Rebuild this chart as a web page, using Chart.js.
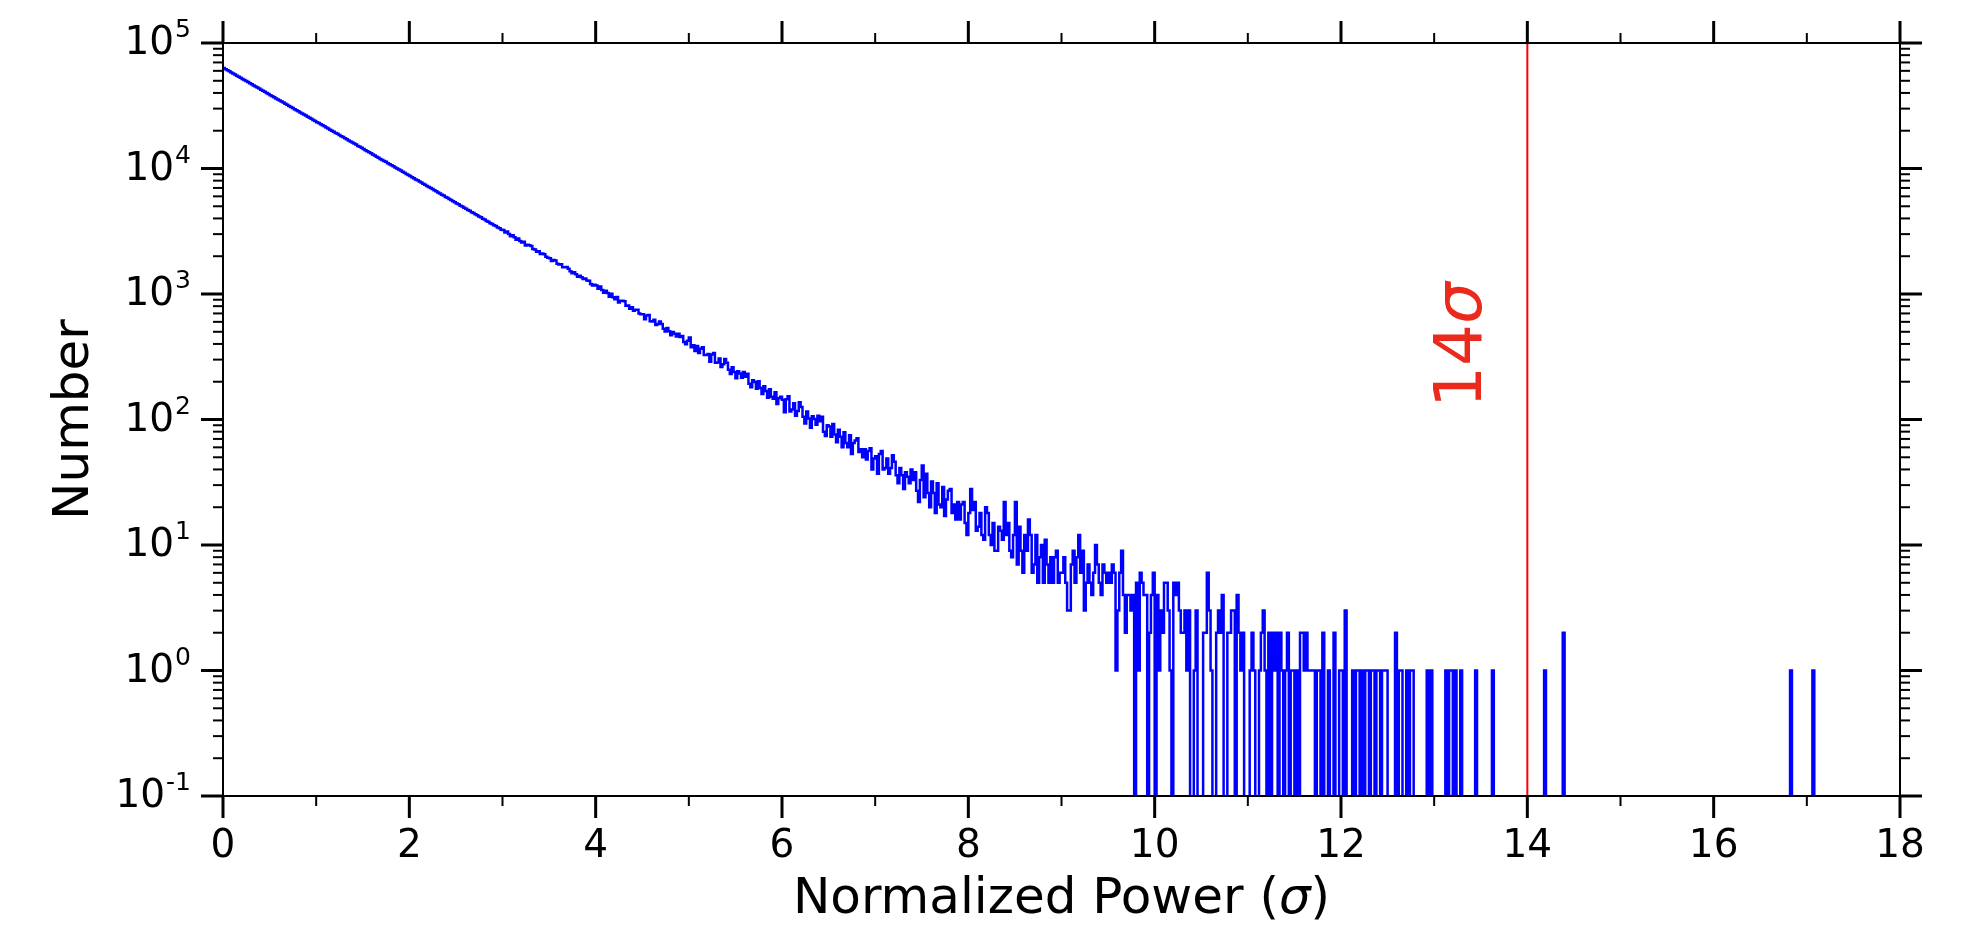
<!DOCTYPE html>
<html>
<head>
<meta charset="utf-8">
<script src="https://cdn.jsdelivr.net/npm/chart.js@4.4.1/dist/chart.umd.min.js"></script>
<style>
  html, body { margin: 0; padding: 0; background: #ffffff; }
  canvas { display: block; }
</style>
</head>
<body>
<canvas id="chart" width="1983" height="925"></canvas>
<script>
// Histogram of normalized power: counts per bin of width 0.02 sigma
const BIN_WIDTH = 0.02;
const X_RANGE = [0, 18];
const Y_RANGE = [0.1, 1e5];

// bins starting at 0.00 ... 4.98
const countsLow = [
  63100, 61900, 60600, 59500, 58300,  57200, 56000, 54900, 53900, 52800,
  51700, 50800, 49700, 48800, 47800,  46900, 45900, 45100, 44100, 43300,
  42500, 41600, 40800, 40000, 39300,  38400, 37700, 37000, 36200, 35500,
  34800, 34200, 33500, 32800, 32200,  31500, 30900, 30400, 29700, 29100,
  28600, 28000, 27400, 26900, 26400,  25900, 25400, 24900, 24400, 23900,
  23400, 23000, 22500, 22100, 21700,  21200, 20800, 20400, 20000, 19600,
  19200, 18900, 18500, 18100, 17800,  17400, 17100, 16700, 16400, 16100,
  15800, 15500, 15100, 14900, 14600,  14300, 14000, 13700, 13500, 13200,
  12900, 12700, 12400, 12200, 11900,  11700, 11500, 11300, 11000, 10800,
  10600, 10400, 10200, 10000, 9800,   9620, 9420, 9250, 9050, 8890,
  8710, 8530, 8380, 8190, 8050,       7880, 7740, 7560, 7430, 7270,
  7130, 6980, 6860, 6700, 6590,       6450, 6330, 6190, 6080, 5940,
  5840, 5710, 5610, 5480, 5390,       5270, 5180, 5060, 4980, 4860,
  4780, 4670, 4600, 4490, 4420,       4310, 4240, 4140, 4080, 3980,
  3920, 3820, 3760, 3670, 3620,       3530, 3480, 3390, 3340, 3250,
  3230, 3090, 3150, 3000, 2890,       2935, 2838, 2703, 2772, 2643,
  2570, 2610, 2432, 2468, 2445,       2418, 2280, 2265, 2174, 2188,
  2087, 2098, 2077, 1978, 1948,       1927, 1831, 1865, 1850, 1743,
  1720, 1723, 1633, 1630, 1642,       1591, 1518, 1466, 1491, 1437,
  1374, 1396, 1360, 1316, 1329,       1282, 1278, 1204, 1168, 1187,
  1170, 1099, 1148, 1076, 1022,       1063, 1018, 952, 1006, 941,
  910, 947, 854, 885, 883,            877, 806, 808, 764, 784,
  735, 750, 749, 698, 691,            689, 628, 674, 679, 607,
  603, 623, 566, 577, 603,            576, 529, 503, 536, 505,
  469, 499, 482, 458, 483,            455, 463, 415, 397, 424
];

// bins starting at 5.00 ... 11.18
const countsMid = [
  451, 377, 391, 351, 385,   338, 366, 376, 326, 327,
  332, 289, 330, 339, 283,   285, 306, 262, 275, 303,
  283, 249, 230, 261, 239,   213, 242, 233, 215, 239,
  219, 231, 193, 181, 205,   199, 176, 202, 178, 160,
  184, 169, 149, 174, 152,   146, 165, 133, 148, 152,
  144, 114, 145, 153, 116,   120, 135, 107, 117, 137,
  126, 105, 93, 116, 102,    86, 106, 101, 91, 107,
  97, 105, 80, 74, 90,       88, 73, 92, 76, 66,
  83, 73, 60, 79, 65,        60, 75, 53, 65, 68,
  71, 55, 58, 50, 58,        48, 56, 59, 40, 49,
  51, 37, 53, 56, 40,        41, 49, 37, 41, 52,
  46, 36, 31, 41, 36,        28, 38, 35, 31, 40,
  33, 38, 27, 22, 33,        43, 24, 37, 26, 20,
  32, 26, 18, 31, 21,        20, 29, 17, 23, 27,
  28, 18, 21, 16, 22,        16, 21, 22, 15, 12,
  18, 28, 19, 22, 13,        14, 18, 12, 11, 20,
  18, 12, 10, 15, 9,         9, 14, 13, 11, 22,
  12, 15, 9, 8, 12,          22, 7, 14, 9, 6,
  12, 9, 16, 12, 6,          7, 12, 5, 8, 10,
  5, 11, 7, 5, 8,            5, 8, 9, 5, 6,
  6, 8, 5, 3, 3,             7, 9, 5, 8, 12,
  6, 9, 3, 5, 7,             5, 4, 6, 10, 7,
  5, 4, 7, 6, 5,             6, 5, 7, 6, 1,
  3, 6, 9, 4, 2,             4, 4, 3, 4, 0,
  5, 1, 6, 5, 4,             4, 0, 2, 4, 6,
  0, 4, 1, 3, 2,             5, 5, 3, 1, 0,
  5, 4, 5, 3, 2,             2, 3, 1, 3, 0,
  0, 1, 3, 0, 0,             0, 2, 2, 6, 3,
  1, 0, 0, 2, 3,             2, 4, 0, 0, 2,
  2, 3, 3, 0, 4,             2, 1, 2, 0, 0,
  0, 1, 2, 1, 0,             0, 1, 2, 3, 1
];

// sparse tail: [bin start, count] for the non-empty bins above 11.2
const tailCounts = [
  [11.22, 2], [11.26, 2], [11.28, 1], [11.30, 2], [11.34, 2], [11.36, 1],
  [11.40, 1], [11.42, 2], [11.46, 1], [11.48, 1], [11.52, 1], [11.56, 2],
  [11.58, 2], [11.60, 1], [11.62, 2], [11.64, 1], [11.66, 1], [11.68, 1],
  [11.70, 1], [11.74, 1], [11.76, 1], [11.80, 2], [11.86, 1], [11.92, 2],
  [11.98, 1], [12.00, 1], [12.04, 3], [12.12, 1], [12.16, 1], [12.18, 1],
  [12.22, 1], [12.26, 1], [12.28, 1], [12.32, 1], [12.34, 1], [12.38, 1],
  [12.40, 1], [12.44, 1], [12.46, 1], [12.48, 1], [12.58, 2], [12.62, 1],
  [12.64, 1], [12.70, 1], [12.74, 1], [12.76, 1], [12.92, 1], [12.96, 1],
  [13.12, 1], [13.16, 1], [13.18, 1], [13.22, 1], [13.28, 1], [13.44, 1],
  [13.62, 1], [14.18, 1], [14.38, 2], [16.82, 1], [17.06, 1]
];

// detection threshold
const THRESHOLD_SIGMA = 14;

const xMajorTicks = [0, 2, 4, 6, 8, 10, 12, 14, 16, 18];
const xMinorTicks = [1, 3, 5, 7, 9, 11, 13, 15, 17];
const yDecades = [-1, 0, 1, 2, 3, 4, 5];

// ---- build the step series ----
const nBins = Math.round((X_RANGE[1] - X_RANGE[0]) / BIN_WIDTH);
const counts = new Array(nBins).fill(0);
countsLow.concat(countsMid).forEach((c, i) => { counts[i] = c; });
tailCounts.forEach(([x0, c]) => { counts[Math.round(x0 / BIN_WIDTH)] = c; });

// empty bins fall below the axis floor and are clipped, like a log-scale histogram
const EMPTY = 1e-3;
const steps = counts.map((c, i) => ({ x: X_RANGE[0] + i * BIN_WIDTH, y: c > 0 ? c : EMPTY }));
steps.push({ x: X_RANGE[1], y: steps[steps.length - 1].y });

const FONT = '"DejaVu Sans", "Liberation Sans", sans-serif';

// axes frame, ticks, tick labels and titles
const frame = {
  id: 'frame',
  afterDatasetsDraw(chart) {
    const { ctx, chartArea: a, scales } = chart;
    const xs = scales.x, ys = scales.y;
    ctx.save();
    ctx.strokeStyle = '#000';
    ctx.lineCap = 'butt';
    const seg = (x1, y1, x2, y2, w) => {
      ctx.lineWidth = w;
      ctx.beginPath(); ctx.moveTo(x1, y1); ctx.lineTo(x2, y2); ctx.stroke();
    };
    const MAJ = 22, MIN = 10;
    xMajorTicks.forEach(v => {
      const p = xs.getPixelForValue(v);
      seg(p, a.bottom, p, a.bottom + MAJ, 3);
      seg(p, a.top, p, a.top - MAJ, 3);
    });
    xMinorTicks.forEach(v => {
      const p = xs.getPixelForValue(v);
      seg(p, a.bottom, p, a.bottom + MIN, 2);
      seg(p, a.top, p, a.top - MIN, 2);
    });
    yDecades.forEach(e => {
      const p = ys.getPixelForValue(Math.pow(10, e));
      seg(a.left, p, a.left - MAJ, p, 3);
      seg(a.right, p, a.right + MAJ, p, 3);
    });
    yDecades.slice(0, -1).forEach(e => {
      for (let m = 2; m <= 9; m++) {
        const p = ys.getPixelForValue(m * Math.pow(10, e));
        seg(a.left, p, a.left - MIN, p, 2);
        seg(a.right, p, a.right + MIN, p, 2);
      }
    });
    ctx.lineWidth = 2;
    ctx.strokeRect(a.left, a.top, a.right - a.left, a.bottom - a.top);

    // x tick labels
    ctx.fillStyle = '#000';
    ctx.textBaseline = 'alphabetic';
    ctx.font = '39px ' + FONT;
    ctx.textAlign = 'center';
    xMajorTicks.forEach(v => ctx.fillText(String(v), xs.getPixelForValue(v), a.bottom + 61));

    // y tick labels as powers of ten
    ctx.textAlign = 'left';
    const BASE = '39px ' + FONT, SUP = '25px ' + FONT;
    yDecades.forEach(e => {
      const p = ys.getPixelForValue(Math.pow(10, e));
      ctx.font = BASE; const wb = ctx.measureText('10').width;
      ctx.font = SUP; const sup = String(e); const ws = ctx.measureText(sup).width;
      const x0 = a.left - 33 - wb - ws;
      ctx.font = BASE; ctx.fillText('10', x0, p + 11);
      ctx.font = SUP; ctx.fillText(sup, x0 + wb + 1, p - 6);
    });

    // runs of text with mixed upright / italic pieces, centred on (cx, cy)
    const drawRun = (parts, cx, cy) => {
      let total = 0;
      parts.forEach(([t, f]) => { ctx.font = f; total += ctx.measureText(t).width; });
      let x = cx - total / 2;
      ctx.textAlign = 'left';
      parts.forEach(([t, f]) => { ctx.font = f; ctx.fillText(t, x, cy); x += ctx.measureText(t).width; });
    };
    const T = '50px ' + FONT, TI = 'italic 50px ' + FONT;
    drawRun([['Normalized Power (', T], ['\u03c3', TI], [')', T]], (a.left + a.right) / 2, a.bottom + 117);

    // y title
    ctx.save();
    ctx.translate(a.left - 135, (a.top + a.bottom) / 2);
    ctx.rotate(-Math.PI / 2);
    ctx.font = T; ctx.textAlign = 'center';
    ctx.fillText('Number', 0, 0);
    ctx.restore();

    // threshold annotation
    ctx.save();
    ctx.fillStyle = '#ea2a1c';
    ctx.translate(xs.getPixelForValue(THRESHOLD_SIGMA) - 46, a.top + 302);
    ctx.rotate(-Math.PI / 2);
    drawRun([[String(THRESHOLD_SIGMA), '66px ' + FONT], ['\u03c3', 'italic 66px ' + FONT]], 0, 0);
    ctx.restore();

    ctx.restore();
  }
};

new Chart(document.getElementById('chart'), {
  type: 'line',
  data: {
    datasets: [
      {
        label: 'threshold',
        data: [{ x: THRESHOLD_SIGMA, y: Y_RANGE[0] }, { x: THRESHOLD_SIGMA, y: Y_RANGE[1] }],
        borderColor: '#ff0000',
        borderWidth: 2,
        pointRadius: 0,
        clip: 0
      },
      {
        label: 'Number',
        data: steps,
        borderColor: '#0000ff',
        borderWidth: 2.5,
        pointRadius: 0,
        stepped: 'before',
        fill: false,
        clip: 0
      }
    ]
  },
  options: {
    responsive: false,
    devicePixelRatio: 1,
    animation: false,
    events: [],
    layout: { padding: { left: 223, right: 83, top: 43, bottom: 129 } },
    plugins: { legend: { display: false }, tooltip: { enabled: false } },
    scales: {
      x: { type: 'linear', min: X_RANGE[0], max: X_RANGE[1], display: false },
      y: { type: 'logarithmic', min: Y_RANGE[0], max: Y_RANGE[1], display: false }
    }
  },
  plugins: [frame]
});
</script>
</body>
</html>
